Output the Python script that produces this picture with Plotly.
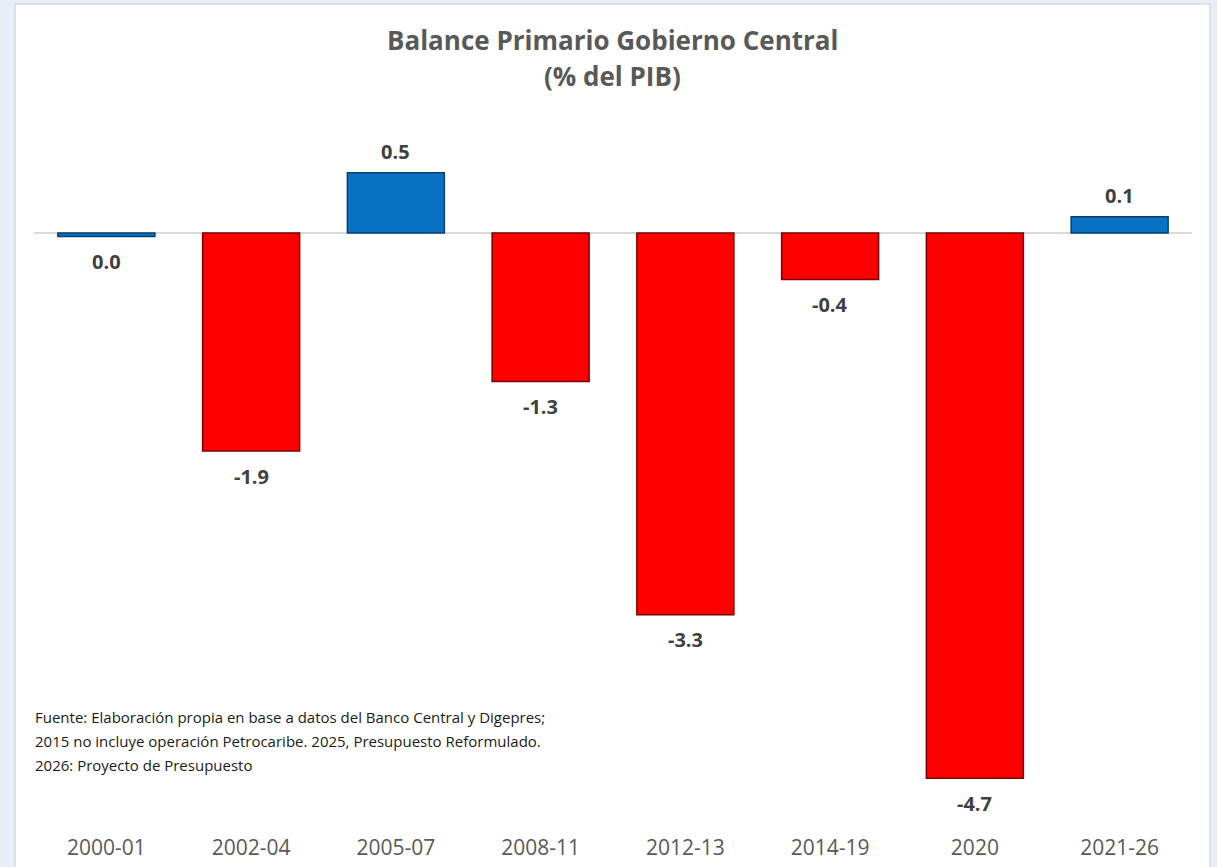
import plotly.graph_objects as go

categories = ["2000-01", "2002-04", "2005-07", "2008-11", "2012-13", "2014-19", "2020", "2021-26"]
values = [-0.03, -1.88, 0.52, -1.28, -3.29, -0.40, -4.70, 0.14]
labels = ["0.0", "-1.9", "0.5", "-1.3", "-3.3", "-0.4", "-4.7", "0.1"]

title_lines = ["Balance Primario Gobierno Central", "(% del PIB)"]
source_lines = [
    "Fuente: Elaboración propia en base a datos del Banco Central y Digepres;",
    "2015 no incluye operación Petrocaribe. 2025, Presupuesto Reformulado.",
    "2026: Proyecto de Presupuesto",
]

POS_FILL, POS_LINE = "#0872C4", "#0B3F6B"
NEG_FILL, NEG_LINE = "#FF0000", "#7A0000"

is_pos = [(v >= 0 or l == "0.0") for v, l in zip(values, labels)]
fills = [POS_FILL if p else NEG_FILL for p in is_pos]
lines = [POS_LINE if p else NEG_LINE for p in is_pos]

FONT = "Open Sans, Liberation Sans, sans-serif"

fig = go.Figure()
fig.add_trace(go.Bar(
    x=categories, y=values,
    marker=dict(color=fills, line=dict(color=lines, width=1.5)),
    width=0.67, hoverinfo="x+y",
))

W, H = 1217, 867
ml, mr, mt, mb = 34, 25, 117, 34
pw, ph = W - ml - mr, H - mt - mb

def px_x(p):
    return (p - ml) / pw

def px_y(p):
    return (H - mb - p) / ph

annotations = []
for i, (v, l) in enumerate(zip(values, labels)):
    up = v > 0
    annotations.append(dict(
        x=i, y=v, xref="x", yref="y", text="<b>" + l + "</b>", showarrow=False,
        yshift=21 if up else -25,
        font=dict(family=FONT, size=20, color="#404040"),
    ))

for i, t in enumerate(title_lines):
    annotations.append(dict(
        x=px_x(612), y=px_y(40 + 36 * i), xref="paper", yref="paper",
        text="<b>" + t + "</b>", showarrow=False, xanchor="center", yanchor="middle",
        font=dict(family=FONT, size=26, color="#595959"),
    ))

for i, t in enumerate(source_lines):
    annotations.append(dict(
        x=px_x(33), y=px_y(717 + 24 * i), xref="paper", yref="paper",
        text=t, showarrow=False, xanchor="left", yanchor="middle",
        font=dict(family=FONT, size=15, color="#1a1a1a"),
    ))

bg = "#E8EEF7"
shapes = [
    dict(type="rect", xref="paper", yref="paper", x0=px_x(0), x1=px_x(15), y0=px_y(H), y1=px_y(0),
         fillcolor=bg, line=dict(width=0), layer="below"),
    dict(type="rect", xref="paper", yref="paper", x0=px_x(1210), x1=px_x(W), y0=px_y(H), y1=px_y(0),
         fillcolor=bg, line=dict(width=0), layer="below"),
    dict(type="rect", xref="paper", yref="paper", x0=px_x(0), x1=px_x(W), y0=px_y(4), y1=px_y(0),
         fillcolor=bg, line=dict(width=0), layer="below"),
    dict(type="line", xref="paper", yref="paper", x0=px_x(15), x1=px_x(15), y0=px_y(H), y1=px_y(4),
         line=dict(color="#D9D9D9", width=1.5)),
    dict(type="line", xref="paper", yref="paper", x0=px_x(1210), x1=px_x(1210), y0=px_y(H), y1=px_y(4),
         line=dict(color="#D9D9D9", width=1.5)),
    dict(type="line", xref="paper", yref="paper", x0=px_x(15), x1=px_x(1210), y0=px_y(4), y1=px_y(4),
         line=dict(color="#D9D9D9", width=1.5)),
]

fig.update_layout(
    width=W, height=H,
    margin=dict(l=ml, r=mr, t=mt, b=mb, pad=0, autoexpand=False),
    paper_bgcolor="white", plot_bgcolor="white",
    showlegend=False,
    annotations=annotations,
    shapes=shapes,
    xaxis=dict(
        type="category", range=[-0.5, len(categories) - 0.5], automargin=False,
        showgrid=False, showline=False, zeroline=False, ticks="",
        tickfont=dict(family=FONT, size=21, color="#595959"),
    ),
    yaxis=dict(
        range=[-(ph - (233 - mt)) / 116.0, (233 - mt) / 116.0], automargin=False,
        showgrid=False, showticklabels=False, ticks="",
        zeroline=True, zerolinecolor="#D9D9D9", zerolinewidth=1.5,
    ),
)

fig.write_html(
    "out.html",
    config={"displayModeBar": False},
    post_script="document.body.style.margin='0';document.body.style.overflow='hidden';",
)
